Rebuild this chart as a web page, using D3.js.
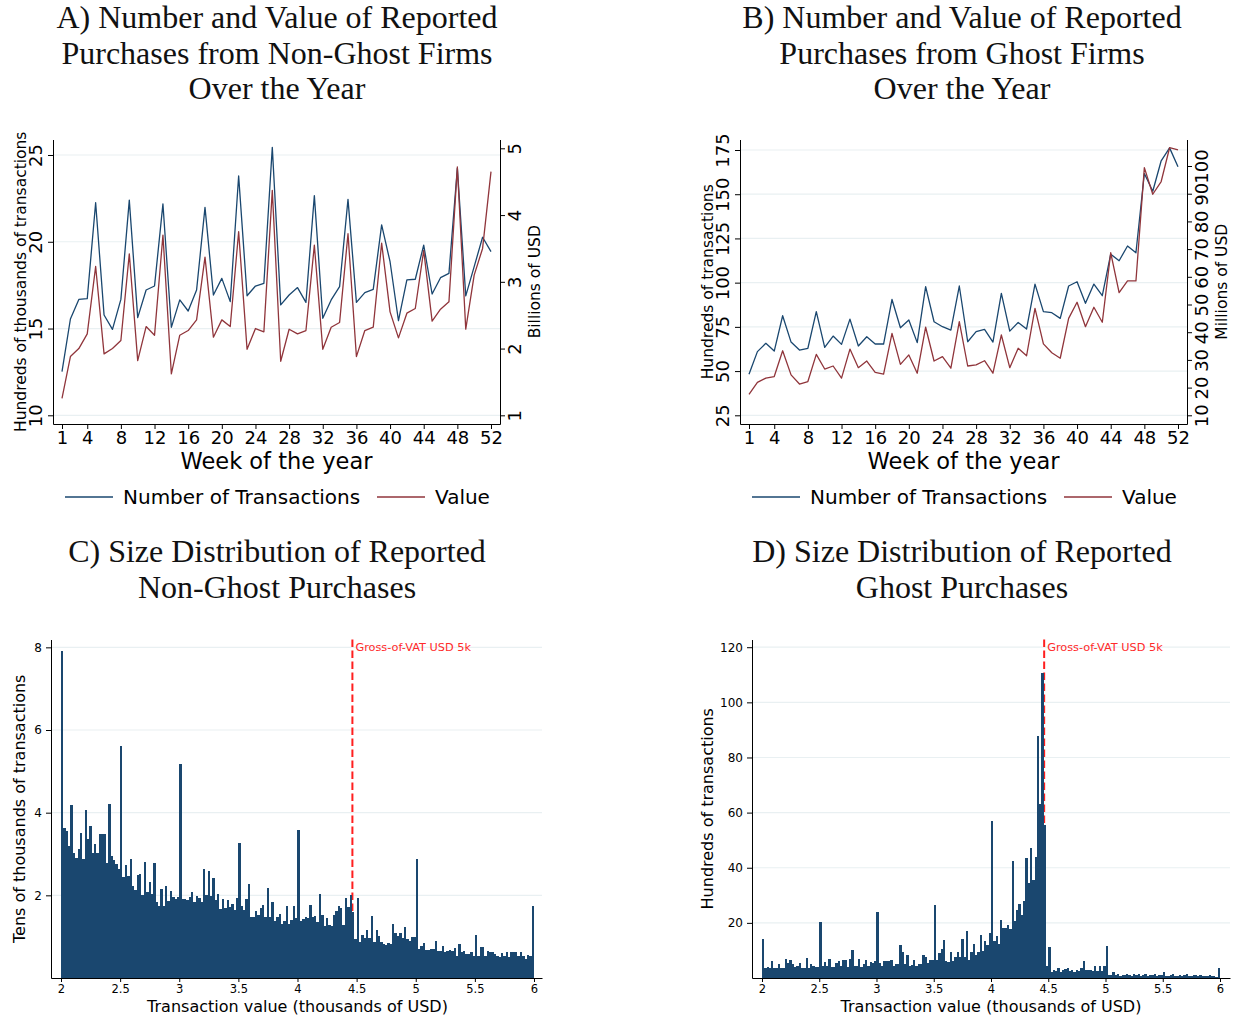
<!DOCTYPE html>
<html>
<head>
<meta charset="utf-8">
<script src="https://cdn.jsdelivr.net/npm/d3@7"></script>
<style>
  body { margin: 0; background: #fff; }
  text { font-family: "DejaVu Sans", sans-serif; }
</style>
</head>
<body>
<div id="app"></div>
<script>
// ---- data ----
const weekTicks = [1, 4, 8, 12, 16, 20, 24, 28, 32, 36, 40, 44, 48, 52];

// hundreds of thousands of transactions / billions of USD
const nonGhostCount = [12.52, 15.55, 16.68, 16.72, 22.25, 15.78, 14.95, 16.68, 22.4, 15.63, 17.22, 17.45, 22.18,
  15.07, 16.65, 16.01, 17.22, 21.98, 16.93, 17.89, 16.55, 23.79, 16.89, 17.45, 17.6, 25.44,
  16.36, 16.93, 17.36, 16.51, 22.66, 15.59, 16.65, 17.41, 22.44, 16.51, 17.07, 17.26, 20.97,
  18.85, 15.45, 17.8, 17.84, 19.81, 16.99, 17.93, 18.18, 24.23, 16.88, 18.57, 20.26, 19.43];
const nonGhostValue = [1.255, 1.88, 2.0, 2.22, 3.23, 1.92, 2.0, 2.12, 3.42, 1.82, 2.33, 2.2, 3.7,
  1.62, 2.2, 2.27, 2.43, 3.37, 2.17, 2.43, 2.33, 3.75, 1.99, 2.3, 2.25, 4.37,
  1.81, 2.29, 2.22, 2.27, 3.55, 1.99, 2.32, 2.39, 3.72, 1.88, 2.27, 2.32, 3.58,
  2.55, 2.16, 2.53, 2.6, 3.47, 2.41, 2.59, 2.7, 4.72, 2.29, 3.1, 3.5, 4.65];

// hundreds of transactions / millions of USD
const ghostCount = [48.2, 61.0, 65.7, 61.3, 81.3, 66.4, 61.9, 62.9, 83.6, 63.4, 69.8, 65.1, 79.4,
  64.2, 69.4, 65.3, 65.3, 90.5, 74.5, 78.9, 66.1, 97.7, 77.9, 75.1, 73.2, 98.1,
  66.6, 72.3, 73.6, 66.4, 93.9, 72.6, 77.5, 73.8, 99.2, 83.6, 83.0, 79.8, 98.1,
  100.5, 88.3, 99.2, 92.6, 116.1, 112.4, 120.7, 116.9, 161.7, 151.7, 168.9, 176.2, 165.5];
const ghostValue = [17.6, 21.9, 23.4, 24.0, 33.3, 24.6, 21.3, 22.2, 32.0, 26.7, 27.8, 23.4, 33.9,
  27.2, 29.6, 25.5, 24.9, 39.6, 28.4, 31.8, 25.2, 41.8, 29.6, 31.2, 27.0, 43.8,
  27.8, 28.2, 29.7, 25.2, 39.0, 27.2, 34.2, 31.5, 48.6, 35.8, 32.6, 30.6, 45.0,
  50.8, 42.0, 49.0, 43.6, 68.7, 54.3, 58.5, 58.5, 99.4, 89.8, 94.4, 106.6, 105.8];

const histTicks = [2, 2.5, 3, 3.5, 4, 4.5, 5, 5.5, 6];
const binStart = 2;
const binWidth = 0.02;
const vatThreshold = 5 / 1.12;

// tens of thousands of transactions, 20 USD bins from 2k to 6k
const nonGhostBins = [
  7.9, 3.63, 3.56, 3.2, 4.19, 3.02, 2.91, 3.13, 3.51, 2.89,
  4.06, 3.37, 3.68, 3.02, 3.25, 3.03, 3.49, 3.49, 3.49, 2.79,
  4.22, 2.94, 2.86, 2.77, 2.64, 5.62, 2.45, 2.74, 2.47, 2.88,
  2.23, 2.13, 2.48, 2.52, 2.02, 2.81, 2.09, 2.33, 2.03, 2.78,
  1.83, 1.73, 2.15, 1.75, 2.23, 1.87, 2.1, 1.97, 1.9, 1.95,
  5.18, 1.9, 1.92, 1.88, 1.96, 2.08, 1.84, 1.98, 1.94, 1.84,
  2.64, 2.0, 2.59, 1.98, 2.42, 1.88, 2.04, 1.68, 1.92, 1.7,
  1.88, 1.72, 1.8, 1.64, 1.94, 3.27, 1.75, 1.65, 1.9, 2.27,
  1.47, 1.48, 1.63, 1.53, 1.69, 1.77, 1.48, 2.18, 1.48, 1.83,
  1.39, 1.47, 1.56, 1.31, 1.39, 1.73, 1.31, 1.4, 1.73, 1.44,
  3.59, 1.39, 1.42, 1.48, 1.45, 1.77, 1.47, 1.51, 1.36, 2.03,
  1.53, 1.27, 1.44, 1.29, 1.27, 1.53, 1.63, 1.75, 1.69, 1.29,
  1.94, 1.72, 2.02, 1.6, 0.95, 1.93, 0.88, 1.05, 0.96, 1.16,
  0.96, 1.51, 0.86, 1.15, 1.02, 0.88, 0.82, 0.81, 0.85, 0.82,
  1.31, 1.1, 1.02, 1.1, 0.96, 1.24, 0.94, 0.89, 1.0, 1.0,
  2.88, 0.7, 0.78, 0.85, 0.68, 0.68, 0.7, 0.7, 0.9, 0.66,
  0.66, 0.78, 0.62, 0.65, 0.68, 0.66, 0.73, 0.54, 0.82, 0.62,
  0.65, 0.58, 0.58, 0.62, 0.54, 1.05, 0.54, 0.74, 0.74, 0.54,
  0.66, 0.62, 0.62, 0.58, 0.54, 0.52, 0.6, 0.54, 0.62, 0.52,
  0.64, 0.64, 0.64, 0.54, 0.62, 0.54, 0.46, 0.56, 0.54, 1.75];

// hundreds of transactions, same bins
const ghostBins = [
  14, 3.5, 4, 3.5, 6, 3.5, 3.5, 5, 3.5, 3.5,
  7, 5.5, 6.5, 5, 4, 4.5, 5.5, 3.5, 3.5, 7.3,
  3.5, 5, 4.5, 4, 4, 20.3, 4.5, 5.8, 4.5, 7,
  4, 4, 5.5, 6, 4.5, 6.5, 6.5, 4, 6.8, 10,
  4.5, 4.5, 6.8, 4, 5, 6.5, 4.5, 5.8, 5.5, 6.2,
  23.8, 5.5, 4.5, 6, 6, 6.2, 6.5, 4.2, 5, 5,
  12, 9.5, 5, 8.2, 4.5, 4.8, 6.5, 4.5, 5.2, 5,
  8.2, 7.5, 5.5, 6.5, 6.5, 26.5, 6.5, 9, 10.5, 13.8,
  6, 5.8, 9.5, 6, 7.5, 9.5, 7.5, 14, 7.5, 17,
  6.5, 9.5, 12.3, 8.5, 9.5, 15.5, 9.8, 13.5, 12, 16.3,
  57, 13.5, 15.2, 12.5, 21, 18, 18, 19.2, 17.8, 42.3,
  20.5, 24.5, 27, 22.8, 28, 43.5, 34.5, 47, 35.5, 44,
  87.8, 63, 110.5, 55.5, 4.5, 11.3, 2.2, 3, 2.5, 3.8,
  2.3, 3, 3.2, 3.5, 2.5, 2.8, 2, 3, 2.5, 3.5,
  6, 3, 2.8, 3, 2.5, 4.2, 2.5, 4.2, 2.5, 4.2,
  11.5, 1.0, 1.0, 2.2, 1.2, 1.5, 0.8, 1.2, 1.0, 1.5,
  1.2, 0.8, 1.3, 1.0, 1.4, 0.8, 1.2, 1.3, 0.8, 1.0,
  1.0, 1.4, 0.8, 1.0, 1.0, 2.1, 0.8, 0.8, 1.0, 1.5,
  0.8, 0.8, 1.0, 0.8, 1.2, 1.4, 0.8, 0.8, 1.0, 1.0,
  0.8, 1.2, 0.7, 0.8, 0.8, 1.0, 0.8, 0.8, 0.5, 3.5];

// ---- style ----
const navy = "#1a476f";
const maroon = "#90353b";
const gridColor = "#e9f0f2";
const serif = "'Liberation Serif', 'DejaVu Serif', serif";
const fmt = d3.format("~g");

const width = 1233;
const height = 1019;

const svg = d3.select("#app").append("svg")
  .attr("width", width)
  .attr("height", height)
  .style("display", "block");

function title(lines, cx, y0) {
  svg.append("g").selectAll("text")
    .data(lines)
    .join("text")
    .attr("x", cx)
    .attr("y", (d, i) => y0 + i * 35.6)
    .attr("text-anchor", "middle")
    .style("font-family", serif)
    .style("font-size", "32px")
    .attr("fill", "#111")
    .text((d) => d);
}

function linePanel(o) {
  const g = svg.append("g");
  const x = d3.scaleLinear().domain([-0.07, 53.07]).range([o.left, o.right]);
  const yL = d3.scaleLinear().domain(o.leftDomain).range([o.bottom, o.top]);
  const yR = d3.scaleLinear().domain(o.rightDomain).range([o.bottom, o.top]);

  g.append("g").selectAll("line")
    .data(o.leftTicks)
    .join("line")
    .attr("x1", o.left).attr("x2", o.right)
    .attr("y1", (d) => yL(d)).attr("y2", (d) => yL(d))
    .attr("stroke", gridColor).attr("stroke-width", 1.2);

  const series = [
    { values: o.count, scale: yL, color: navy },
    { values: o.value, scale: yR, color: maroon }
  ];
  series.forEach((s) => {
    g.append("path")
      .datum(s.values)
      .attr("fill", "none")
      .attr("stroke", s.color)
      .attr("stroke-width", 1.3)
      .attr("stroke-linejoin", "round")
      .attr("d", d3.line().x((d, i) => x(i + 1)).y((d) => s.scale(d)));
  });

  const ax = g.append("g")
    .attr("transform", `translate(0,${o.bottom})`)
    .call(d3.axisBottom(x).tickValues(weekTicks).tickSize(5).tickSizeOuter(0));
  ax.selectAll("text").style("font-size", "18px").attr("dy", "0.71em").attr("y", 7);

  const al = g.append("g")
    .attr("transform", `translate(${o.left},0)`)
    .call(d3.axisLeft(yL).tickValues(o.leftTicks).tickFormat(fmt).tickSize(5).tickSizeOuter(0));
  al.selectAll("text")
    .attr("x", null).attr("dy", null)
    .attr("text-anchor", "middle")
    .attr("transform", "translate(-11,0) rotate(-90)")
    .style("font-size", "18px");

  const ar = g.append("g")
    .attr("transform", `translate(${o.right},0)`)
    .call(d3.axisRight(yR).tickValues(o.rightTicks).tickFormat(fmt).tickSize(5).tickSizeOuter(0));
  ar.selectAll("text")
    .attr("x", null).attr("dy", null)
    .attr("text-anchor", "middle")
    .attr("transform", "translate(21,0) rotate(-90)")
    .style("font-size", "18px");

  g.selectAll(".domain").attr("stroke", "#000");

  g.append("text")
    .attr("transform", `translate(${o.left - 27.5},${(o.top + o.bottom) / 2}) rotate(-90)`)
    .attr("text-anchor", "middle")
    .style("font-size", "15.5px")
    .text(o.leftTitle);
  g.append("text")
    .attr("transform", `translate(${o.right + 39.5},${(o.top + o.bottom) / 2}) rotate(-90)`)
    .attr("text-anchor", "middle")
    .style("font-size", "15.5px")
    .text(o.rightTitle);

  g.append("text")
    .attr("x", (o.left + o.right) / 2)
    .attr("y", o.bottom + 45)
    .attr("text-anchor", "middle")
    .style("font-size", "22.5px")
    .text("Week of the year");

  // legend
  const legend = [
    { label: "Number of Transactions", color: navy, x: o.left + 12 },
    { label: "Value", color: maroon, x: o.left + 324 }
  ];
  const lg = g.append("g").selectAll("g").data(legend).join("g")
    .attr("transform", (d) => `translate(${d.x},${o.bottom + 73})`);
  lg.append("line").attr("x1", 0).attr("x2", 48)
    .attr("stroke", (d) => d.color).attr("stroke-width", 1.3);
  lg.append("text").attr("x", 58).attr("y", 7)
    .style("font-size", "20px").text((d) => d.label);
}

function histPanel(o) {
  const g = svg.append("g");
  const x = d3.scaleLinear().domain(o.xDomain).range([o.left, o.right]);
  const y = d3.scaleLinear().domain([0, o.yMax]).range([o.bottom, o.top]);

  g.append("g").selectAll("line")
    .data(o.yTicks)
    .join("line")
    .attr("x1", o.left).attr("x2", o.right)
    .attr("y1", (d) => y(d)).attr("y2", (d) => y(d))
    .attr("stroke", gridColor).attr("stroke-width", 1.2);

  g.append("line")
    .attr("x1", x(vatThreshold)).attr("x2", x(vatThreshold))
    .attr("y1", o.top).attr("y2", o.bottom)
    .attr("stroke", "#ff1f1f").attr("stroke-width", 2)
    .attr("stroke-dasharray", "7.5,3.5");

  g.append("g").selectAll("rect")
    .data(o.bins)
    .join("rect")
    .attr("x", (d, i) => x(binStart + i * binWidth))
    .attr("width", (d, i) => x(binStart + (i + 1) * binWidth) - x(binStart + i * binWidth))
    .attr("y", (d) => y(d))
    .attr("height", (d) => y(0) - y(d))
    .attr("fill", navy)
    .attr("shape-rendering", "crispEdges");

  g.append("text")
    .attr("x", x(vatThreshold) + 3)
    .attr("y", y(o.yTicks[o.yTicks.length - 1]) + 4)
    .attr("fill", "#ff2a2a")
    .style("font-size", "11.3px")
    .text("Gross-of-VAT USD 5k");

  const ax = g.append("g")
    .attr("transform", `translate(0,${o.bottom})`)
    .call(d3.axisBottom(x).tickValues(histTicks).tickFormat(fmt).tickSize(4).tickSizeOuter(0).tickPadding(3));
  ax.selectAll("text").style("font-size", "11.5px");

  const ay = g.append("g")
    .attr("transform", `translate(${o.left},0)`)
    .call(d3.axisLeft(y).tickValues(o.yTicks).tickFormat(fmt).tickSize(5).tickSizeOuter(0).tickPadding(4));
  ay.selectAll("text").style("font-size", "12px");

  g.selectAll(".domain").attr("stroke", "#000");

  g.append("text")
    .attr("transform", `translate(${o.titleX},${(o.top + o.bottom) / 2}) rotate(-90)`)
    .attr("text-anchor", "middle")
    .style("font-size", "16px")
    .text(o.yTitle);

  g.append("text")
    .attr("x", x(4))
    .attr("y", o.bottom + 34)
    .attr("text-anchor", "middle")
    .style("font-size", "16px")
    .text("Transaction value (thousands of USD)");
}

// ---- panels ----
title(["A) Number and Value of Reported", "Purchases from Non-Ghost Firms", "Over the Year"], 277, 28);
title(["B) Number and Value of Reported", "Purchases from Ghost Firms", "Over the Year"], 962, 28);
title(["C) Size Distribution of Reported", "Non-Ghost Purchases"], 277, 562);
title(["D) Size Distribution of Reported", "Ghost Purchases"], 962, 562);

linePanel({
  left: 53, right: 500, top: 139.5, bottom: 424,
  leftDomain: [9.499, 25.893], rightDomain: [0.870, 5.132],
  leftTicks: [10, 15, 20, 25], rightTicks: [1, 2, 3, 4, 5],
  count: nonGhostCount, value: nonGhostValue,
  leftTitle: "Hundreds of thousands of transactions",
  rightTitle: "Billions of USD"
});

linePanel({
  left: 740, right: 1187, top: 139.5, bottom: 424,
  leftDomain: [20.08, 180.94], rightDomain: [6.86, 109.57],
  leftTicks: [25, 50, 75, 100, 125, 150, 175],
  rightTicks: [10, 20, 30, 40, 50, 60, 70, 80, 90, 100],
  count: ghostCount, value: ghostValue,
  leftTitle: "Hundreds of transactions",
  rightTitle: "Millions of USD"
});

histPanel({
  left: 51, right: 542, top: 639.5, bottom: 978,
  xDomain: [1.9154, 6.0677], yMax: 8.19, yTicks: [2, 4, 6, 8],
  bins: nonGhostBins, titleX: 25,
  yTitle: "Tens of thousands of transactions"
});

histPanel({
  left: 752, right: 1230, top: 639.5, bottom: 978,
  xDomain: [1.9127, 6.0873], yMax: 122.8, yTicks: [20, 40, 60, 80, 100, 120],
  bins: ghostBins, titleX: 713,
  yTitle: "Hundreds of transactions"
});
</script>
</body>
</html>
